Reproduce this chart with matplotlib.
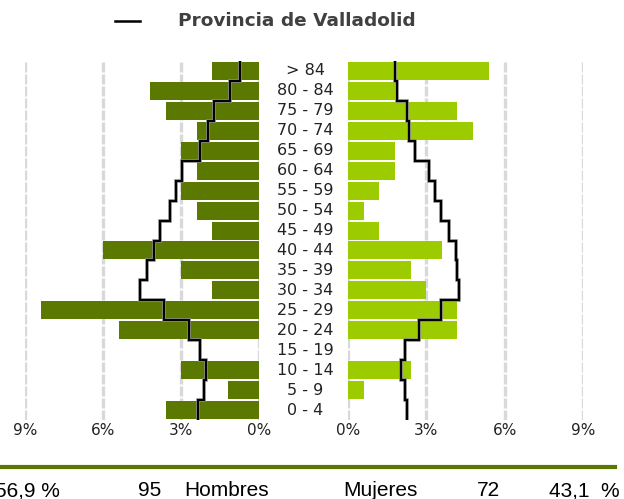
import numpy as np
import matplotlib
matplotlib.use("Agg")
import matplotlib.pyplot as plt
import matplotlib.patheffects as pe

# grupos de edad (de abajo arriba)
edades = ["0 - 4", "5 - 9", "10 - 14", "15 - 19", "20 - 24", "25 - 29", "30 - 34",
          "35 - 39", "40 - 44", "45 - 49", "50 - 54", "55 - 59", "60 - 64",
          "65 - 69", "70 - 74", "75 - 79", "80 - 84", "> 84"]

# habitantes del municipio
hombres = [6, 2, 5, 0, 9, 14, 3, 5, 10, 3, 4, 5, 4, 5, 4, 6, 7, 3]
mujeres = [0, 1, 4, 0, 7, 7, 5, 4, 6, 2, 1, 2, 3, 3, 8, 7, 3, 9]

# provincia de Valladolid (%)
prov_hombres = [2.33, 2.12, 2.02, 2.26, 2.71, 3.65, 4.59, 4.30, 4.03, 3.81,
                3.41, 3.18, 2.95, 2.26, 1.95, 1.73, 1.10, 0.72]
prov_mujeres = [2.26, 2.18, 2.03, 2.19, 2.72, 3.58, 4.27, 4.19, 4.12, 3.87,
                3.58, 3.35, 3.10, 2.56, 2.33, 2.27, 1.86, 1.81]

ticks = [0, 3, 6, 9]
tick_labels = ["0%", "3%", "6%", "9%"]

c_h = "#5b7800"
c_m = "#9ccc00"
c_grid = "#d9d9d9"

total = sum(hombres) + sum(mujeres)
pct_h = np.array(hombres) * 100 / total
pct_m = np.array(mujeres) * 100 / total
y = np.arange(len(edades))

W, H = 624, 499
fig = plt.figure(figsize=(W / 100, H / 100), dpi=100)

ax_l = fig.add_axes([25 / W, 79 / H, 234 / W, 359 / H])
ax_r = fig.add_axes([348 / W, 79 / H, 235 / W, 359 / H])


def escalera(vals):
    xs, ys = [], []
    for i, v in enumerate(vals):
        xs += [v, v]
        ys += [i - 0.5, i + 0.5]
    return xs, ys


for ax, pct, prov, col in [(ax_l, pct_h, prov_hombres, c_h), (ax_r, pct_m, prov_mujeres, c_m)]:
    for t in ticks:
        ax.axvline(t, color=c_grid, lw=2.4, ls=(0, (3, 0.6)), zorder=0)
    ax.barh(y, pct, height=0.9, color=col, zorder=2)
    xs, ys = escalera(prov)
    ax.plot(xs, ys, color="black", lw=1.6, zorder=3, solid_joinstyle="miter",
            path_effects=[pe.Stroke(linewidth=2.6, foreground="#9a9a9a"), pe.Normal()])
    ax.set_ylim(-0.5, len(edades) - 0.5)
    ax.set_yticks([])
    ax.set_xticks(ticks)
    ax.set_xticklabels(tick_labels, fontsize=11, color="#222222")
    ax.tick_params(axis="x", length=0, pad=2)
    for s in ax.spines.values():
        s.set_visible(False)
    ax.patch.set_alpha(0)

ax_l.set_xlim(9, 0)
ax_r.set_xlim(0, 9)

# etiquetas de edad en el centro
for i, lab in enumerate(edades):
    fig.text(305 / W, ax_l.transData.transform((0, i))[1] / H, lab,
             ha="center", va="center", fontsize=11.5, color="#222222")

# leyenda
fig.add_artist(plt.Line2D([115 / W, 140 / W], [1 - 21 / H, 1 - 21 / H], color="black", lw=1.8))
fig.text(178 / W, 1 - 21 / H, "Provincia de Valladolid", fontsize=13.3, fontweight="bold",
         color="#404040", ha="left", va="center")

# pie con totales
fig.add_artist(plt.Line2D([0, 615 / W], [1 - 467 / H, 1 - 467 / H], color=c_h, lw=3))
n_h, n_m = sum(hombres), sum(mujeres)
p_h = n_h * 100 / total
p_m = n_m * 100 / total
pie = dict(fontsize=15, family="Liberation Sans", color="black", va="baseline")
yb = 2.5 / H
fig.text(60 / W, yb, f"{p_h:.1f}".replace(".", ",") + " %", ha="right", **pie)
fig.text(161 / W, yb, str(n_h), ha="right", **pie)
fig.text(184 / W, yb, "Hombres", ha="left", **pie)
fig.text(343 / W, yb, "Mujeres", ha="left", **pie)
fig.text(500 / W, yb, str(n_m), ha="right", **pie)
fig.text(620 / W, yb, f"{p_m:.1f}".replace(".", ",") + "  %", ha="right", **pie)

fig.savefig("out.png", dpi=100)
